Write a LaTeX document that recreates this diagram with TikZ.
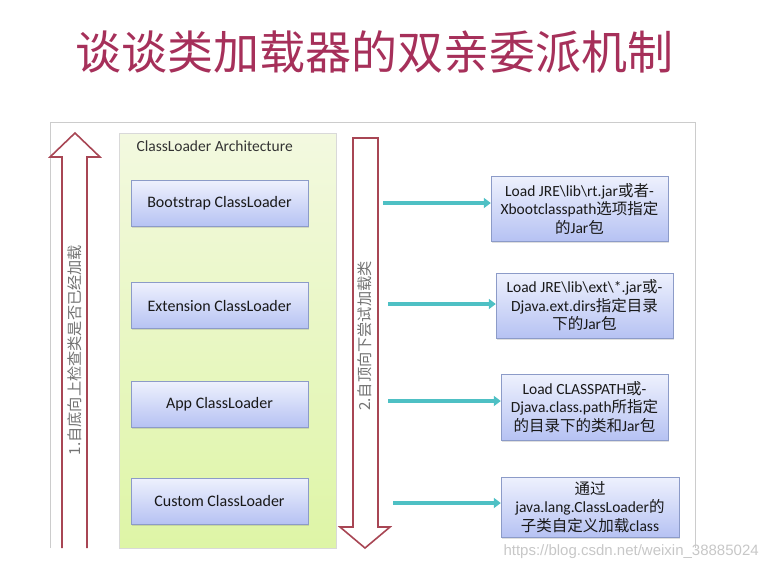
\documentclass[tikz,border=0pt]{standalone}
\usepackage{fontspec}
\setmainfont{Carlito}
\newfontfamily\cjk{Noto Sans CJK SC}
\newfontfamily\wmfont{Liberation Sans}
\usetikzlibrary{arrows.meta,shadows}
\definecolor{titlered}{RGB}{166,48,90}
\definecolor{arrowred}{RGB}{168,70,84}
\definecolor{tealarrow}{RGB}{78,192,196}
\definecolor{boxline}{RGB}{140,155,200}
\definecolor{boxtop}{RGB}{238,241,253}
\definecolor{boxbot}{RGB}{182,194,243}
\definecolor{panetop}{RGB}{243,249,224}
\definecolor{panebot}{RGB}{222,245,166}

\begin{document}
\begin{tikzpicture}
                \tikzset{x=1pt, y=-1pt}
                \tikzstyle{loader}=[rectangle, draw=boxline, top color=boxtop, bottom color=boxbot, minimum width=177pt, minimum height=46pt, text=black!90, font=\fontsize{16}{18}\selectfont, drop shadow={shadow xshift=1pt, shadow yshift=-1.5pt, opacity=0.25}]
                \tikzstyle{note}=[loader, align=center, minimum height=65pt, inner sep=1pt, font=\fontsize{15.5}{18.5}\selectfont]
                \tikzstyle{pass}=[line width=4pt, tealarrow, -{Triangle[length=7pt, width=10pt]}]
                \tikzstyle{way}=[draw=arrowred, line width=1.6pt, fill=white, line join=miter]
                \tikzstyle{side}=[rotate=90, text=black!55, font=\cjk\fontsize{15.2}{16}\selectfont]

                \useasboundingbox (0,0) rectangle (781,571);

                % title
                \draw (374,52)      node[text=titlered, font=\cjk\fontsize{46}{50}\selectfont] (title) {谈谈类加载器的双亲委派机制};

                % frame and panel
                \draw [black!20, line width=1pt] (50,548) -- (50,122) -- (695,122) -- (695,548);
                \draw [black!15, top color=panetop, bottom color=panebot] (119,133) rectangle (336,548);
                \draw (133,146)     node[anchor=west, text=black!80, font=\fontsize{15.5}{17}\selectfont] (arch) {ClassLoader Architecture};

                % big arrows
                \draw [way] (62,548) -- (62,157) -- (50,157) -- (75,133) -- (100,157) -- (87,157) -- (87,548);
                \draw [way] (353,138) -- (378,138) -- (378,527) -- (390,527) -- (365,548) -- (340,527) -- (353,527) -- cycle;
                \draw (75,350)      node[side]      (up)    {1.自底向上检查类是否已经加载};
                \draw (365,336)     node[side]      (down)  {2.自顶向下尝试加载类};

                % loaders
                \draw (219.5,203.5) node[loader]    (boot)  {Bootstrap ClassLoader};
                \draw (219.5,305.5) node[loader]    (ext)   {Extension ClassLoader};
                \draw (219.5,404.0) node[loader]    (app)   {App ClassLoader};
                \draw (219.5,501.0) node[loader]    (cust)  {Custom ClassLoader};

                % what each one loads
                \draw (579.5,208.5) node[note]      (rt)    {Load JRE\textbackslash lib\textbackslash rt.jar{\cjk 或者}-\\Xbootclasspath{\cjk 选项指定}\\{\cjk 的}Jar{\cjk 包}};
                \draw (584.5,305.5) node[note]      (dirs)  {Load JRE\textbackslash lib\textbackslash ext\textbackslash *.jar{\cjk 或}-\\Djava.ext.dirs{\cjk 指定目录}\\{\cjk 下的}Jar{\cjk 包}};
                \draw (584.5,407.0) node[note, minimum width=167pt, minimum height=66pt] (cp) {Load CLASSPATH{\cjk 或}-\\Djava.class.path{\cjk 所指定}\\{\cjk 的目录下的类和}Jar{\cjk 包}};
                \draw (590.0,507.0) node[note, minimum width=178pt, minimum height=60pt] (sub) {{\cjk 通过}\\java.lang.ClassLoader{\cjk 的}\\{\cjk 子类自定义加载}class};

                % teal arrows
                \coordinate (f1) at (383,203);
                \coordinate (f2) at (388,304);
                \coordinate (f3) at (388,401);
                \coordinate (f4) at (393,503);
                \draw [pass]        (f1) -- (f1 -| rt.west);
                \draw [pass]        (f2) -- (f2 -| dirs.west);
                \draw [pass]        (f3) -- (f3 -| cp.west);
                \draw [pass]        (f4) -- (f4 -| sub.west);

                % watermark
                \draw (500,552)     node[anchor=west, text=black!22, font=\wmfont\fontsize{15}{17}\selectfont] (mark) {https://blog.csdn.net/weixin\_38885024};
            \end{tikzpicture}
\end{document}
